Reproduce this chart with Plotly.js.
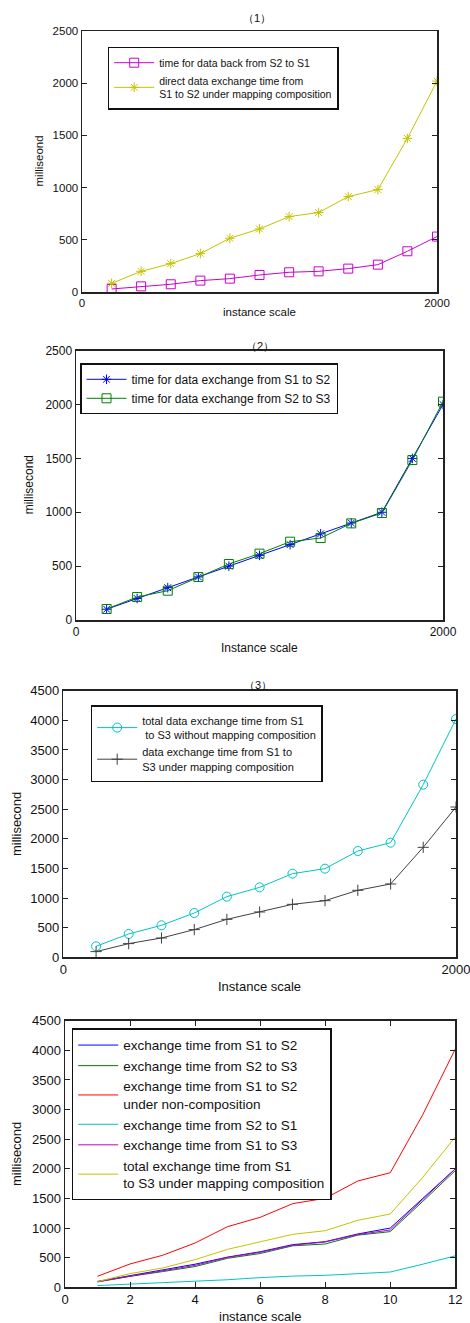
<!DOCTYPE html>
<html>
<head>
<meta charset="utf-8">
<script src="https://cdn.plot.ly/plotly-3.0.1.min.js"></script>
<style>html,body{margin:0;padding:0;background:#fff;}#chart{width:470px;height:1323px;}</style>
</head>
<body>
<div id="chart"></div>
<script>
// ---------- data ----------
var scaleX = [167, 333, 500, 667, 833, 1000, 1167, 1333, 1500, 1667, 1833, 2000];
var scaleIdx = [1, 2, 3, 4, 5, 6, 7, 8, 9, 10, 11, 12];

// panel (1)
var backS2toS1 = [29, 54, 74, 109, 128, 163, 189, 198, 224, 262, 390, 531];
var directS1toS2 = [83, 198, 272, 368, 515, 604, 722, 761, 914, 981, 1471, 2020];

// panel (2)
var exS1toS2 = [100, 200, 300, 400, 500, 600, 700, 800, 900, 1000, 1500, 2000];
var exS2toS3 = [102, 213, 272, 399, 520, 616, 727, 761, 897, 993, 1485, 2027];

// panel (3)
var totalNoComp = [186, 394, 540, 748, 1024, 1181, 1412, 1496, 1794, 1935, 2914, 4022];
var s1s3Comp = [96, 231, 326, 467, 641, 765, 894, 956, 1131, 1238, 1856, 2537];

// panel (4)
var p4S1S2 = [100, 200, 290, 390, 510, 600, 720, 770, 900, 1000, 1500, 2000];
var p4S2S3 = [90, 185, 265, 350, 490, 570, 700, 731, 880, 940, 1450, 1970];
var p4NonComp = [186, 394, 540, 748, 1024, 1181, 1412, 1502, 1794, 1934, 2914, 4022];
var p4S2S1 = [29, 54, 74, 109, 128, 163, 189, 202, 224, 258, 390, 531];
var p4S1S3 = [95, 190, 275, 370, 505, 590, 710, 765, 890, 967, 1480, 2000];
var p4Total = [96, 231, 326, 467, 641, 765, 894, 955, 1131, 1237, 1856, 2537];

var titles = ['\uFF081\uFF09', '\uFF082\uFF09', '\uFF083\uFF09'];
var yTitles = ['milliseond', 'millisecond', 'millisecond', 'millisecond'];
var xTitles = ['instance scale', 'Instance scale', 'Instance scale', 'instance scale'];

// ---------- styling ----------
var FONT = 'Liberation Sans, Arial, Helvetica, sans-serif';
var W = 470, H = 1323;
function fx(px) { return px / W; }
function fy(py) { return 1 - py / H; }

var C = {
  magenta: '#CC00CC', yellow: '#C4C400', blue: '#0000FF', green: '#008000',
  cyan: '#00C4C4', dark: '#404040', red: '#FF0000', mag4: '#BF00BF'
};

var traces = [
  {x: scaleX, y: backS2toS1, name: 'time for data back from S2 to S1', xaxis: 'x', yaxis: 'y', legend: 'legend',
   mode: 'lines+markers', line: {color: C.magenta, width: 1}, marker: {symbol: 'square-open', size: 9, color: C.magenta, line: {width: 1}}},
  {x: scaleX, y: directS1toS2, name: 'direct data exchange time from<br>S1 to S2 under mapping composition', xaxis: 'x', yaxis: 'y', legend: 'legend',
   mode: 'lines+markers', line: {color: C.yellow, width: 1}, marker: {symbol: 'asterisk-open', size: 8, color: C.yellow, line: {width: 1, color: C.yellow}}},

  {x: scaleX, y: exS1toS2, name: 'time for data exchange from S1 to S2', xaxis: 'x2', yaxis: 'y2', legend: 'legend2',
   mode: 'lines+markers', line: {color: C.blue, width: 1}, marker: {symbol: 'asterisk-open', size: 8, color: C.blue, line: {width: 1, color: C.blue}}},
  {x: scaleX, y: exS2toS3, name: 'time for data exchange from S2 to S3', xaxis: 'x2', yaxis: 'y2', legend: 'legend2',
   mode: 'lines+markers', line: {color: C.green, width: 1}, marker: {symbol: 'square-open', size: 9, color: C.green, line: {width: 1}}},

  {x: scaleX, y: totalNoComp, name: 'total data exchange time from S1<br> to S3 without mapping composition', xaxis: 'x3', yaxis: 'y3', legend: 'legend3',
   mode: 'lines+markers', line: {color: C.cyan, width: 1}, marker: {symbol: 'circle-open', size: 9, color: C.cyan, line: {width: 1}}},
  {x: scaleX, y: s1s3Comp, name: 'data exchange time from S1 to<br>S3 under mapping composition', xaxis: 'x3', yaxis: 'y3', legend: 'legend3',
   mode: 'lines+markers', line: {color: C.dark, width: 1}, marker: {symbol: 'cross-thin-open', size: 8, color: C.dark, line: {width: 1, color: C.dark}}},

  {x: scaleIdx, y: p4S1S2, name: 'exchange time from S1 to S2', xaxis: 'x4', yaxis: 'y4', legend: 'legend4',
   mode: 'lines', line: {color: C.blue, width: 1}},
  {x: scaleIdx, y: p4S2S3, name: 'exchange time from S2 to S3', xaxis: 'x4', yaxis: 'y4', legend: 'legend4',
   mode: 'lines', line: {color: C.green, width: 1}},
  {x: scaleIdx, y: p4NonComp, name: 'exchange time from S1 to S2<br>under non-composition', xaxis: 'x4', yaxis: 'y4', legend: 'legend4',
   mode: 'lines', line: {color: C.red, width: 1}},
  {x: scaleIdx, y: p4S2S1, name: 'exchange time from S2 to S1', xaxis: 'x4', yaxis: 'y4', legend: 'legend4',
   mode: 'lines', line: {color: C.cyan, width: 1}},
  {x: scaleIdx, y: p4S1S3, name: 'exchange time from S1 to S3', xaxis: 'x4', yaxis: 'y4', legend: 'legend4',
   mode: 'lines', line: {color: C.mag4, width: 1}},
  {x: scaleIdx, y: p4Total, name: 'total exchange time from S1<br>to S3 under mapping composition', xaxis: 'x4', yaxis: 'y4', legend: 'legend4',
   mode: 'lines', line: {color: C.yellow, width: 1}}
];

// pixel boxes of the four plot areas [left, right, top, bottom]
var boxes = [
  [82, 437, 31, 292],
  [76, 443, 350.7, 620],
  [63.3, 456, 690.7, 957.3],
  [65, 455.3, 1020.7, 1287.3]
];
var yMax = [2500, 2500, 4500, 4500];
var tickSize = [11.5, 12, 13, 13];
var xTitleOff = [20, 28, 29, 29];

function axisBase(sz) {
  return {
    showgrid: false, zeroline: false, showline: true, mirror: 'ticks',
    linecolor: '#222', linewidth: 1.5, ticks: 'inside', ticklen: 5, tickcolor: '#222', tickwidth: 1,
    tickfont: {family: FONT, size: sz, color: '#111'}, fixedrange: true, ticklabeloverflow: 'allow'
  };
}

var layout = {
  width: W, height: H, margin: {l: 0, r: 0, t: 0, b: 0},
  paper_bgcolor: '#fff', plot_bgcolor: '#fff', showlegend: true,
  font: {family: FONT, color: '#111'},
  annotations: []
};

for (var i = 0; i < 4; i++) {
  var b = boxes[i];
  var sx = i === 0 ? '' : String(i + 1);
  var xa = axisBase(tickSize[i]), ya = axisBase(tickSize[i]);
  xa.domain = [fx(b[0]), fx(b[1])];
  ya.domain = [fy(b[3]), fy(b[2])];
  xa.anchor = 'y' + sx; ya.anchor = 'x' + sx;
  if (i < 3) { xa.range = [0, 2000]; xa.tickvals = [0, 2000]; xa.ticktext = ['0', '2000']; }
  else { xa.range = [0, 12]; xa.tickvals = [0, 2, 4, 6, 8, 10, 12]; }
  ya.range = [0, yMax[i]]; ya.dtick = 500; ya.tick0 = 0;
  layout['xaxis' + sx] = xa;
  layout['yaxis' + sx] = ya;
  // axis titles
  layout.annotations.push({text: xTitles[i], xref: 'paper', yref: 'paper', x: fx((b[0] + b[1]) / 2), y: fy(b[3] + xTitleOff[i]),
    xanchor: 'center', yanchor: 'middle', showarrow: false, font: {family: FONT, size: tickSize[i], color: '#111'}});
  var ytx = [38, 29, 16, 16][i];
  layout.annotations.push({text: yTitles[i], xref: 'paper', yref: 'paper', x: fx(ytx), y: fy((b[2] + b[3]) / 2),
    xanchor: 'center', yanchor: 'middle', textangle: -90, showarrow: false, font: {family: FONT, size: tickSize[i], color: '#111'}});
}

// panel titles
var titleY = [18, 346, 685];
var titleX = [257, 260, 258];
for (var t = 0; t < 3; t++) {
  layout.annotations.push({text: titles[t], xref: 'paper', yref: 'paper', x: fx(titleX[t]), y: fy(titleY[t]),
    xanchor: 'center', yanchor: 'middle', showarrow: false, font: {family: FONT, size: 11, color: '#111'}});
}

function leg(px, py, size) {
  return {x: fx(px), y: fy(py), xanchor: 'left', yanchor: 'top', xref: 'paper', yref: 'paper',
    bgcolor: '#fff', bordercolor: '#111', borderwidth: 1.5,
    font: {family: FONT, size: size, color: '#111'}, tracegroupgap: 0, itemwidth: 40};
}
layout.legend = leg(107.7, 46.7, 10.5);
layout.legend2 = leg(80, 363.3, 12);
layout.legend3 = leg(90.7, 705.3, 11);
layout.legend4 = leg(71.7, 1028.3, 13.5);

Plotly.newPlot('chart', traces, layout, {displayModeBar: false, staticPlot: true});
</script>
</body>
</html>
